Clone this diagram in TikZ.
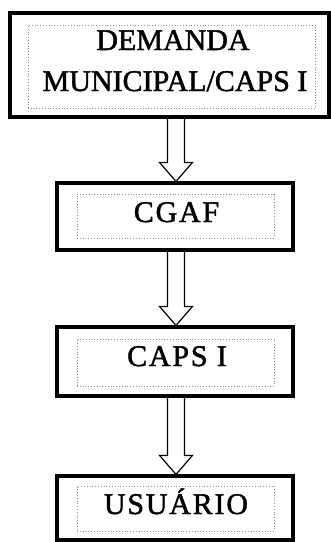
\documentclass[tikz,border=0pt]{standalone}
\usepackage{fontspec}
\setmainfont{Liberation Serif}[FakeBold=1.6]
\newfontfamily\heavyserif[FakeBold=1.6]{Liberation Serif}
\newfontfamily\spacedserif[LetterSpace=6,FakeBold=1.6]{Liberation Serif}
\usetikzlibrary{calc}
\newcommand\hollowarrow[2]{%
  \draw[blockarr] let \p1=(#1.south), \p2=(#2.north) in
    (\x2-7.5pt,\y1) -- (\x2-7.5pt,\y2+19pt) -- (\x2-15.5pt,\y2+19pt) --
    (\x2+1pt,\y2) -- (\x2+17.5pt,\y2+19pt) -- (\x2+9.5pt,\y2+19pt) -- (\x2+9.5pt,\y1);}
\begin{document}
\begin{tikzpicture}[x=1pt,y=-1pt,
  outerbox/.style={draw=black, line width=3.2pt, inner sep=0pt},
  innerbox/.style={draw=black!45, dotted, line width=0.8pt, inner sep=0pt},
  lbl/.style={font=\heavyserif\fontsize{30}{36}\selectfont, anchor=base, inner sep=0pt},
  lbls/.style={font=\spacedserif\fontsize{30}{36}\selectfont, anchor=base, inner sep=0pt},
  blockarr/.style={draw=black, line width=1.2pt, line join=miter}]
\useasboundingbox (0,0) rectangle (331,542);
% top box
\node[outerbox, minimum width=319pt, minimum height=104pt] (demanda) at (169.5,65) {};
\node[innerbox, minimum width=287pt, minimum height=83pt] (demandain) at (171.5,66.5) {};
\node[lbl] (t1a) at (173,50) {DEMANDA};
\node[lbl] (t1b) at (175,91) {MUNICIPAL/CAPS I};
% CGAF
\node[outerbox, minimum width=236pt, minimum height=67pt] (cgaf) at (175,216.5) {};
\node[innerbox, minimum width=197pt, minimum height=44pt] (cgafin) at (175.5,216) {};
\node[lbls] (t2) at (176.5,222) {CGAF};
% CAPS I
\node[outerbox, minimum width=236pt, minimum height=69pt] (caps) at (175,361.5) {};
\node[innerbox, minimum width=197pt, minimum height=47pt] (capsin) at (175.5,362.5) {};
\node[lbls] (t3) at (177,366) {CAPS I};
% USUARIO
\node[outerbox, minimum width=236pt, minimum height=64pt] (usuario) at (175,508) {};
\node[innerbox, minimum width=197pt, minimum height=45pt] (usuarioin) at (175.5,508.5) {};
\node[lbls] (t4) at (176,514) {USUÁRIO};
% arrows
\hollowarrow{demanda}{cgaf}
\hollowarrow{cgaf}{caps}
\hollowarrow{caps}{usuario}
\end{tikzpicture}
\end{document}
